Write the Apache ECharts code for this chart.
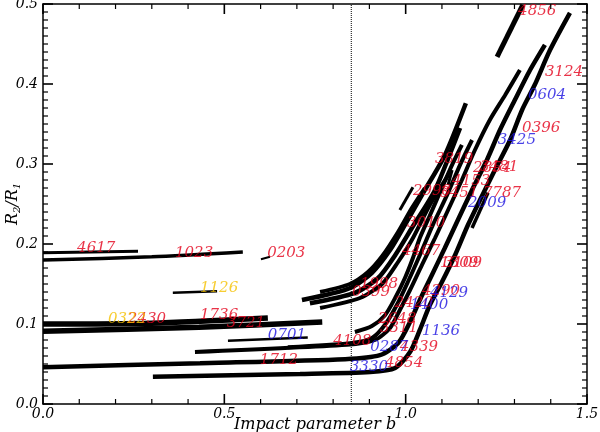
<!DOCTYPE html>
<html><head><meta charset="utf-8">
<script src="https://cdn.jsdelivr.net/npm/echarts@6/dist/echarts.min.js"></script>
<style>html,body{margin:0;padding:0;background:#fff}#c{width:600px;height:432px}</style>
</head><body><div id="c"></div>
<script>
// ---- axis ticks ----
const xTicks = [0.0, 0.5, 1.0, 1.5];
const yTicks = [0.0, 0.1, 0.2, 0.3, 0.4, 0.5];
const xMinorStep = 0.1, yMinorStep = 0.01;
const bLimit = 0.85; // dotted vertical line

// ---- tracks (impact parameter b, radius ratio R2/R1) ----
const track4617 = [[0,0.189],[0.262,0.191]];
const track1023 = [[0,0.180],[0.30,0.184],[0.551,0.190]];
const track0203 = [[0.601,0.181],[0.626,0.184]];
const track1126 = [[0.358,0.139],[0.48,0.141]];
const track2430 = [[0,0.100],[0.30,0.101],[0.62,0.1075]];
const track1736 = [[0,0.091],[0.43,0.096],[0.77,0.1025]];
const track0701 = [[0.51,0.079],[0.73,0.083]];
const trackB1 = [[0.419,0.065],[0.838,0.074],[0.915,0.08],[0.957,0.095],[0.984,0.1175],[1.012,0.1425],[1.045,0.174],[1.081,0.2075],[1.117,0.2425],[1.155,0.28],[1.191,0.3175],[1.232,0.355],[1.274,0.386],[1.315,0.4175]];
const trackB2 = [[0,0.046],[0.433,0.051],[0.833,0.056],[0.929,0.061],[0.979,0.076],[1.012,0.1025],[1.039,0.13],[1.072,0.161],[1.108,0.195],[1.144,0.23],[1.183,0.2675],[1.224,0.305],[1.26,0.3425],[1.301,0.38],[1.343,0.4175],[1.384,0.449]];
const trackB3 = [[0.303,0.034],[0.709,0.0375],[0.902,0.04],[0.971,0.045],[1.012,0.065],[1.039,0.0925],[1.067,0.124],[1.1,0.1525],[1.136,0.186],[1.172,0.224],[1.205,0.255],[1.246,0.2925],[1.288,0.33],[1.321,0.3675],[1.356,0.399],[1.398,0.4425],[1.453,0.489]];
const trackB4 = [[0.86,0.09],[0.907,0.0975],[0.943,0.111],[0.971,0.1325],[0.998,0.1575],[1.02,0.1825],[1.039,0.2075],[1.067,0.236],[1.095,0.265],[1.128,0.299],[1.155,0.324]];
const trackB5 = [[0.675,0.071],[0.846,0.076],[0.907,0.0825],[0.943,0.099],[0.976,0.124],[1.006,0.1525],[1.039,0.186],[1.075,0.224],[1.114,0.261],[1.15,0.299],[1.183,0.33]];
const trackA1 = [[0.714,0.13],[0.791,0.1375],[0.852,0.146],[0.907,0.164],[0.957,0.1925],[0.998,0.224],[1.053,0.2675],[1.108,0.311],[1.166,0.376]];
const trackA2 = [[0.736,0.126],[0.86,0.139],[0.924,0.1575],[0.971,0.186],[1.017,0.22],[1.081,0.2675],[1.15,0.345]];
const trackA3 = [[0.764,0.12],[0.874,0.1325],[0.937,0.151],[0.979,0.1775],[1.017,0.205],[1.067,0.249],[1.117,0.286]];
const trackA4 = [[0.764,0.14],[0.846,0.15],[0.896,0.165],[0.937,0.186],[0.979,0.215],[1.017,0.245],[1.053,0.27]];
const track4856 = [[1.252,0.434],[1.323,0.499]];
const trackS2 = [[0.984,0.2425],[1.02,0.271]];
const trackS3 = [[1.117,0.274],[1.128,0.2925]];
const trackS4 = [[1.183,0.22],[1.227,0.264]];

// ---- labels: [text, b, R2/R1 at text bottom] ----
const redLabels = [
  ["4617",0.094,0.189],["1023",0.364,0.1825],["0203",0.618,0.1825],
  ["2430",0.234,0.101],["1736",0.433,0.105],["3721",0.507,0.095],
  ["1712",0.598,0.049],["4108",0.80,0.0725],["0399",0.852,0.134],
  ["1998",0.874,0.144],["4467",0.99,0.186],["3010",1.004,0.221],
  ["3819",1.081,0.301],["1309",1.095,0.17],["3109",1.105,0.17],
  ["4290",1.045,0.136],["2420",0.97,0.12],["2648",0.924,0.101],
  ["3311",0.929,0.089],["4339",0.984,0.065],["4854",0.943,0.045],
  ["7787",1.213,0.2575],["2998",1.02,0.261],["3451",1.095,0.2575],
  ["4153",1.128,0.2725],["2854",1.186,0.289],["3481",1.205,0.29],
  ["0396",1.321,0.339],["3124",1.384,0.409],["4856",1.31,0.486]
];
const blueLabels = [
  ["0701",0.62,0.080],["4129",1.067,0.1325],["1400",1.012,0.1175],
  ["1136",1.045,0.086],["0287",0.902,0.065],["3330",0.846,0.04],
  ["2009",1.172,0.246],["3425",1.254,0.324],["0604",1.337,0.38]
];
const yellowLabels = [["1126",0.433,0.139],["0322",0.179,0.101]];

const tracks = [
  [track4617,3],[track1023,3.5],[track0203,2],[track1126,2.5],[track2430,5.5],[track1736,5.5],[track0701,2.5],
  [trackB1,4],[trackB2,4.5],[trackB3,4.5],[trackB4,4],[trackB5,4],
  [trackA1,4.5],[trackA2,4.5],[trackA3,4],[trackA4,4],
  [track4856,5],[trackS2,3],[trackS3,3],[trackS4,3.5]
];

const FONT = 'DejaVu Serif';
const RED = '#e4001a', BLUE = '#1a10e0', YELLOW = '#f5c000';
const xMin = xTicks[0], xMax = xTicks[xTicks.length-1];
const yMin = yTicks[0], yMax = yTicks[yTicks.length-1];

// layout (pixels)
const W = 600, H = 432, G = {left:43, right:13, top:4, bottom:28};
const gridW = W - G.left - G.right, gridH = H - G.top - G.bottom;
const MAJOR_LEN = 10, MINOR_LEN = 5;
const xPerPx = (xMax - xMin) / gridW, yPerPx = (yMax - yMin) / gridH;

// one short segment per tick value and side, drawn through the axes' scales
function tickSeriesList(){
  const out = [];
  function seg(p0, p1, major){
    out.push({type:'line', data:[p0, p1], showSymbol:false, silent:true, clip:false,
      lineStyle:{color:'#000', width: major ? 1.6 : 1.2}, z:7});
  }
  const nx = Math.round((xMax - xMin) / xMinorStep);
  for (let i = 0; i <= nx; i++) {
    const major = i % 5 === 0, v = xMin + i*xMinorStep;
    const l = (major ? MAJOR_LEN : MINOR_LEN) * yPerPx;
    seg([v, yMin], [v, yMin + l], major);
    seg([v, yMax], [v, yMax - l], major);
  }
  const ny = Math.round((yMax - yMin) / yMinorStep);
  for (let i = 0; i <= ny; i++) {
    const major = i % 10 === 0, v = yMin + i*yMinorStep;
    const l = (major ? MAJOR_LEN : MINOR_LEN) * xPerPx;
    seg([xMin, v], [xMin + l, v], major);
    seg([xMax, v], [xMax - l, v], major);
  }
  return out;
}

const series = [];
series.push({
  type:'line', data:[[bLimit,yMin],[bLimit,yMax]], showSymbol:false, silent:true,
  lineStyle:{color:'#000', width:1, type:'dotted'}, z:1
});
tracks.forEach(([d,w]) => series.push({
  type:'line', data:d, showSymbol:false, smooth:0.25, silent:true,
  lineStyle:{color:'#000', width:w, cap:'butt'}, z:2
}));
tickSeriesList().forEach(s => series.push(s));
function labelSeries(arr, color){
  return {
    type:'scatter', symbolSize:0, silent:true, z:5,
    data: arr.map(a => ({value:[a[1],a[2]], name:a[0]})),
    label:{show:true, formatter:p=>p.name, position:[0,0], align:'left', verticalAlign:'bottom',
      offset:[0,3], color:color, fontFamily:FONT, fontStyle:'italic', fontSize:15}
  };
}
series.push(labelSeries(redLabels, RED));
series.push(labelSeries(blueLabels, BLUE));
series.push(labelSeries(yellowLabels, YELLOW));

function makeAxis(pos, isX, showLabel){
  return {
    type:'value', position:pos, min: isX ? xMin : yMin, max: isX ? xMax : yMax,
    interval: isX ? 0.5 : 0.1,
    splitLine:{show:false},
    axisLine:{show:true, onZero:false, lineStyle:{color:'#000', width:1.5}},
    axisTick:{show:false}, minorTick:{show:false},
    axisLabel: showLabel ? {show:true, color:'#000', fontFamily:FONT, fontStyle:'italic', fontSize:14,
      margin: isX ? 3 : 5, formatter:v=>v.toFixed(1)} : {show:false}
  };
}
const xBottom = makeAxis('bottom', true, true);
Object.assign(xBottom, {name:'Impact parameter b', nameLocation:'middle', nameGap:13, nameMoveOverlap:false,
  nameTextStyle:{color:'#000', fontFamily:FONT, fontStyle:'italic', fontSize:16}});
const yLeft = makeAxis('left', false, true);
Object.assign(yLeft, {name:'R{s|2}/R{s|1}', nameLocation:'middle', nameGap:21, nameRotate:90, nameMoveOverlap:false,
  nameTextStyle:{color:'#000', fontFamily:FONT, fontStyle:'italic', fontSize:16,
    rich:{s:{fontFamily:FONT, fontStyle:'italic', fontSize:10, padding:[8,0,0,0]}}}});

const chart = echarts.init(document.getElementById('c'));
chart.setOption({
  animation:false,
  grid:{left:G.left, right:G.right, top:G.top, bottom:G.bottom, containLabel:false, outerBoundsMode:'none'},
  xAxis:[xBottom, makeAxis('top', true, false)],
  yAxis:[yLeft, makeAxis('right', false, false)],
  series: series
});
</script>
</body></html>
